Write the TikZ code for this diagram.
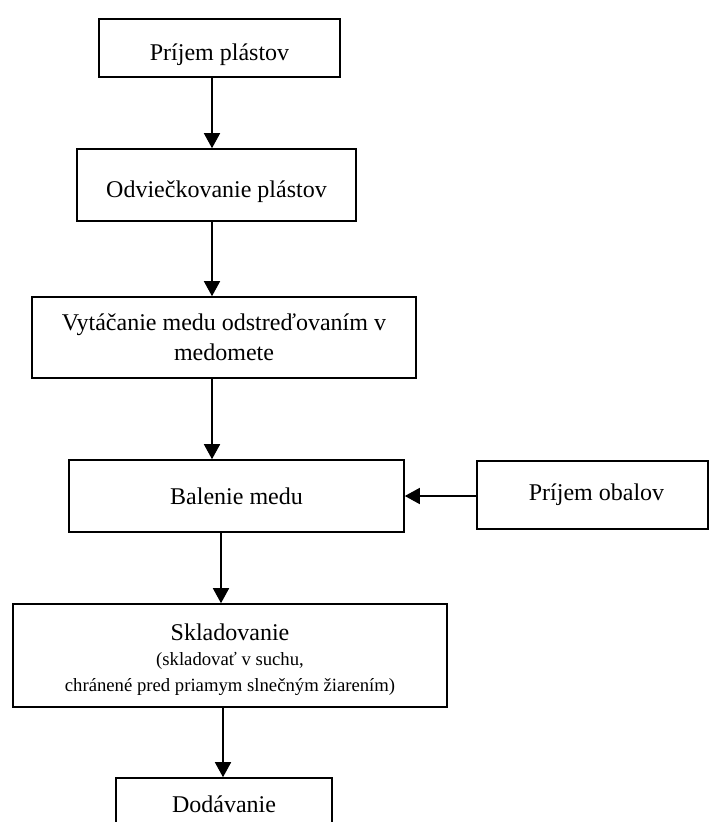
\documentclass[tikz,border=0pt]{standalone}
\usepackage{fontspec}
\setmainfont{Liberation Serif}
\usetikzlibrary{arrows.meta}

\begin{document}
\begin{tikzpicture}[x=1pt,y=-1pt,
  box/.style={draw=black, line width=1.6pt, rectangle, inner sep=2pt,
    align=center, font=\fontsize{24}{30}\selectfont},
  lowtext/.style={text height=24pt, text depth=0pt},
  arr/.style={line width=1.6pt, -{Triangle[length=15pt,width=16pt]}}]
  \useasboundingbox (0,0) rectangle (710,822);
  \clip (0,0) rectangle (710,822);
  \fill[white] (0,0) rectangle (710,822);

  % process steps
  \node[box, lowtext, minimum width=241pt, minimum height=58pt] (prijem) at (219.5,48) {Príjem plástov};
  \node[box, lowtext, minimum width=279pt, minimum height=72pt] (odviec) at (216.5,185) {Odviečkovanie plástov};
  \node[box, minimum width=384pt, minimum height=81pt] (vytac) at (224,337.5)
    {Vytáčanie medu odstreďovaním v\\medomete};
  \node[box, minimum width=335pt, minimum height=72pt] (balenie) at (236.5,496) {Balenie medu};
  \node[box, minimum width=231pt, minimum height=68pt] (obaly) at (592.5,495) {\hspace*{8pt}Príjem obalov};

  % storage box: frame and its three lines of text
  \node[box, minimum width=434pt, minimum height=103pt] (sklad) at (230,655.5) {};
  \node[align=center, inner sep=0pt, font=\fontsize{18.7}{25.5}\selectfont]
    (skladtxt) at (230,659.5)
    {{\fontsize{24}{25.5}\selectfont Skladovanie}\\(skladovať v suchu,\\chránené pred priamym slnečným žiarením)};

  \node[box, text height=17pt, text depth=6pt, minimum width=216pt, minimum height=58pt]
    (dodav) at (224,807) {Dodávanie};

  % columns of the vertical connectors
  \coordinate (xa) at (212,0);
  \coordinate (xb) at (221,0);
  \coordinate (xc) at (223,0);

  \draw[arr] (prijem.south -| xa) -- (odviec.north -| xa);
  \draw[arr] (odviec.south -| xa) -- (vytac.north -| xa);
  \draw[arr] (vytac.south -| xa) -- (balenie.north -| xa);
  \draw[arr] (obaly.west |- balenie.east) -- (balenie.east);
  \draw[arr] (balenie.south -| xb) -- (sklad.north -| xb);
  \draw[arr] (sklad.south -| xc) -- (dodav.north -| xc);
\end{tikzpicture}
\end{document}
